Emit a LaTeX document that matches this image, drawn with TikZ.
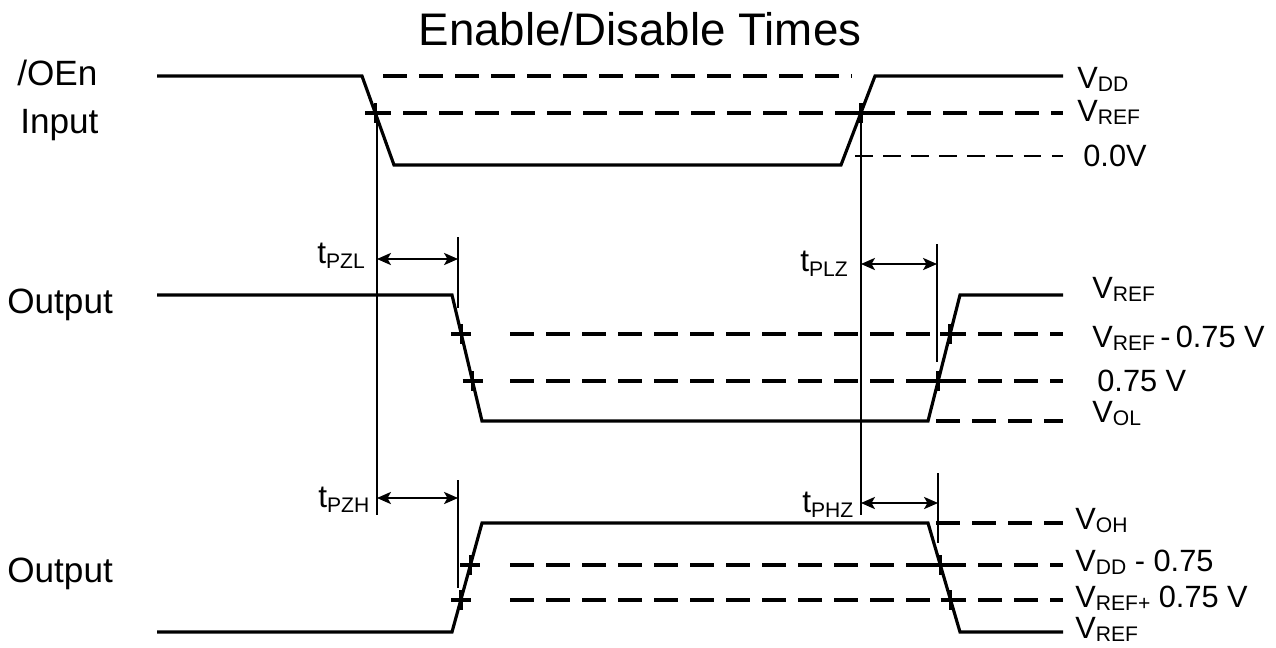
\documentclass[tikz,border=0pt]{standalone}
\usepackage{fontspec}
\setmainfont{Liberation Sans}
\usetikzlibrary{arrows.meta}

% voltage level with subscript, e.g. \Vs{REF}
\newcommand{\Vs}[1]{V\raisebox{-2pt}{\fontsize{12}{12}\selectfont #1}}
% timing parameter, e.g. \Ts{PZL}
\newcommand{\Ts}[1]{{\fontsize{18}{18}\selectfont t}\raisebox{-3pt}{\fontsize{12}{12}\selectfont #1}}

\tikzset{
  sig/.style={line width=1.8pt, line join=miter},
  lvl/.style={line width=1.8pt, dash pattern=on 13.7pt off 6.8pt},
  faint lvl/.style={line width=0.75pt, dash pattern=on 10pt off 6pt},
  marker/.style={line width=0.75pt},
  span/.style={line width=0.75pt, {Stealth[length=8pt,width=7pt,inset=2pt]}-{Stealth[length=8pt,width=7pt,inset=2pt]}},
  lvllabel/.style={anchor=base west, inner sep=0pt, font=\fontsize{17.5}{18}\selectfont},
  tlabel/.style={anchor=base west, inner sep=0pt},
  siglabel/.style={anchor=base west, inner sep=0pt, font=\fontsize{20}{22}\selectfont},
  tick/.pic={\draw[line width=2pt] (-10,0) -- (10,0) (0,-10) -- (0,10);}
}

\begin{document}
\begin{tikzpicture}[x=0.02cm, y=-0.02cm]
\useasboundingbox (0,0) rectangle (1276,647);

% title
\node[anchor=base, inner sep=0pt, font=\fontsize{26}{28}\selectfont] (title) at (640,45) {Enable/Disable Times};

% signal names
\node[siglabel] (oen) at (17,85) {/OEn};
\node[siglabel] (inp) at (20,133) {Input};
\node[siglabel] (out1) at (7,313) {Output};
\node[siglabel] (out2) at (7,582) {Output};

% ---------------- /OEn input ----------------
\coordinate (i0) at (157,76);
\coordinate (i1) at (362,76);
\coordinate (i2) at (394,165);
\coordinate (i3) at (841,165);
\coordinate (i4) at (875,76);
\coordinate (i5) at (1063,76);
\draw[sig] (i0) -- (i1) -- (i2) -- (i3) -- (i4) -- (i5);

\coordinate (vdd0) at (383,76);   \coordinate (vdd1) at (852,76);
\coordinate (ref0) at (367,113);  \coordinate (ref1) at (1063,113);
\coordinate (gnd0) at (855,156);  \coordinate (gnd1) at (1063,156);
\draw[lvl] (vdd0) -- (vdd1);
\draw[lvl] (ref0) -- (ref1);
\draw[faint lvl] (gnd0) -- (gnd1);

\pic at (375.3,113) {tick};
\pic at (861,113) {tick};

\node[lvllabel] (lvdd) at (1077,88) {\Vs{DD}};
\node[lvllabel] (lref) at (1077,121) {\Vs{REF}};
\node[lvllabel] (lgnd) at (1083,166) {0.0V};

% reference verticals from the input crossings
\coordinate (ea) at (377,113);  \coordinate (eb) at (377,515);
\coordinate (da) at (861,118);  \coordinate (db) at (861,515);
\draw[marker] (ea) -- (eb);
\draw[marker] (da) -- (db);

% ---------------- Output, low going ----------------
\coordinate (a0) at (157,295);
\coordinate (a1) at (452,295);
\coordinate (a2) at (482,421);
\coordinate (a3) at (928,421);
\coordinate (a4) at (960,295);
\coordinate (a5) at (1063,295);
\draw[sig] (a0) -- (a1) -- (a2) -- (a3) -- (a4) -- (a5);

\coordinate (am0) at (510,334);  \coordinate (am1) at (1063,334);
\coordinate (al0) at (510,381);  \coordinate (al1) at (1063,381);
\coordinate (ao0) at (936,421);  \coordinate (ao1) at (1063,421);
\draw[lvl] (am0) -- (am1);
\draw[lvl] (al0) -- (al1);
\draw[lvl] (ao0) -- (ao1);

\pic at (461.3,334) {tick};
\pic at (472.5,381) {tick};
\pic at (950,334) {tick};
\pic at (938,381) {tick};

\coordinate (pzl0) at (458,237);  \coordinate (pzl1) at (458,308);
\coordinate (plz0) at (937,244);  \coordinate (plz1) at (937,362);
\draw[marker] (pzl0) -- (pzl1);
\draw[marker] (plz0) -- (plz1);
\draw[span] (377,259) -- (pzl0 |- 0,259);
\draw[span] (861,264) -- (plz0 |- 0,264);
\node[tlabel] (tpzl) at (317,263) {\Ts{PZL}};
\node[tlabel] (tplz) at (800,271) {\Ts{PLZ}};

\node[lvllabel] (lref2) at (1092,298) {\Vs{REF}};
\node[lvllabel] (lrefm) at (1092,347) {\Vs{REF}\kern3pt-\kern3pt0.75 V};
\node[lvllabel] (l075) at (1097,391) {0.75 V};
\node[lvllabel] (lol) at (1092,422) {\Vs{OL}};

% ---------------- Output, high going ----------------
\coordinate (b0) at (157,632);
\coordinate (b1) at (452,632);
\coordinate (b2) at (482,523);
\coordinate (b3) at (928,523);
\coordinate (b4) at (960,632);
\coordinate (b5) at (1063,632);
\draw[sig] (b0) -- (b1) -- (b2) -- (b3) -- (b4) -- (b5);

\coordinate (bh0) at (936,523);  \coordinate (bh1) at (1063,523);
\coordinate (bd0) at (510,565);  \coordinate (bd1) at (1063,565);
\coordinate (br0) at (510,600);  \coordinate (br1) at (1063,600);
\draw[lvl] (bh0) -- (bh1);
\draw[lvl] (bd0) -- (bd1);
\draw[lvl] (br0) -- (br1);

\pic at (470.4,565) {tick};
\pic at (461,600) {tick};
\pic at (940.3,565) {tick};
\pic at (950.6,600) {tick};

\coordinate (pzh0) at (458,480);  \coordinate (pzh1) at (458,588);
\coordinate (phz0) at (938,473);  \coordinate (phz1) at (938,543);
\draw[marker] (pzh0) -- (pzh1);
\draw[marker] (phz0) -- (phz1);
\draw[span] (377,498) -- (pzh0 |- 0,498);
\draw[span] (861,503) -- (phz0 |- 0,503);
\node[tlabel] (tpzh) at (318,507) {\Ts{PZH}};
\node[tlabel] (tphz) at (802,512) {\Ts{PHZ}};

\node[lvllabel] (loh) at (1075,529) {\Vs{OH}};
\node[lvllabel] (lddm) at (1075,571) {\Vs{DD} - 0.75};
\node[lvllabel] (lrefp) at (1075,607) {\Vs{REF+} 0.75 V};
\node[lvllabel] (lref3) at (1075,638) {\Vs{REF}};
\end{tikzpicture}
\end{document}
